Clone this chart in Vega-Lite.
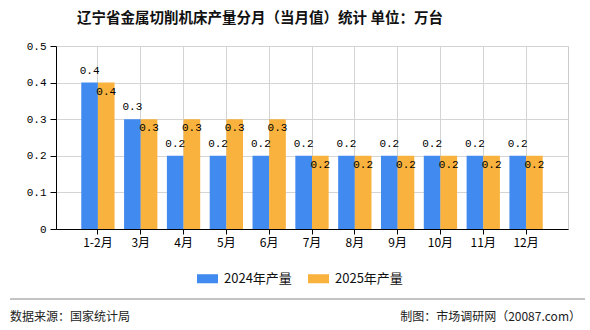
{
  "$schema": "https://vega.github.io/schema/vega-lite/v6.json",
  "width": 512,
  "height": 183,
  "autosize": {"type": "none"},
  "padding": {"left": 56, "top": 46, "right": 22, "bottom": 101},
  "background": "white",
  "config": {
    "view": {"stroke": "#cccccc", "strokeWidth": 1},
    "font": "Noto Sans CJK SC"
  },
  "data": {
    "values": [
      {"month": "1-2月", "year": "2024年产量", "value": 0.4},
      {"month": "3月", "year": "2024年产量", "value": 0.3},
      {"month": "4月", "year": "2024年产量", "value": 0.2},
      {"month": "5月", "year": "2024年产量", "value": 0.2},
      {"month": "6月", "year": "2024年产量", "value": 0.2},
      {"month": "7月", "year": "2024年产量", "value": 0.2},
      {"month": "8月", "year": "2024年产量", "value": 0.2},
      {"month": "9月", "year": "2024年产量", "value": 0.2},
      {"month": "10月", "year": "2024年产量", "value": 0.2},
      {"month": "11月", "year": "2024年产量", "value": 0.2},
      {"month": "12月", "year": "2024年产量", "value": 0.2},
      {"month": "1-2月", "year": "2025年产量", "value": 0.4},
      {"month": "3月", "year": "2025年产量", "value": 0.3},
      {"month": "4月", "year": "2025年产量", "value": 0.3},
      {"month": "5月", "year": "2025年产量", "value": 0.3},
      {"month": "6月", "year": "2025年产量", "value": 0.3},
      {"month": "7月", "year": "2025年产量", "value": 0.2},
      {"month": "8月", "year": "2025年产量", "value": 0.2},
      {"month": "9月", "year": "2025年产量", "value": 0.2},
      {"month": "10月", "year": "2025年产量", "value": 0.2},
      {"month": "11月", "year": "2025年产量", "value": 0.2},
      {"month": "12月", "year": "2025年产量", "value": 0.2}
    ]
  },
  "encoding": {
    "x": {
      "field": "month",
      "type": "nominal",
      "sort": null,
      "scale": {"paddingInner": 0.222, "paddingOuter": 0.59},
      "axis": {
        "title": null,
        "labelAngle": 0,
        "bandPosition": 0.5,
        "grid": true,
        "gridColor": "#d4d4d4",
        "domainColor": "#000000",
        "tickColor": "#000000",
        "tickSize": 5,
        "labelFont": "Noto Sans CJK SC",
        "labelFontSize": 12,
        "labelColor": "#000000",
        "labelPadding": 3
      }
    },
    "y": {
      "field": "value",
      "type": "quantitative",
      "scale": {"domain": [0, 0.5], "nice": false},
      "axis": {
        "title": null,
        "values": [0, 0.1, 0.2, 0.3, 0.4, 0.5],
        "format": "~g",
        "grid": true,
        "gridColor": "#d4d4d4",
        "domainColor": "#000000",
        "tickColor": "#000000",
        "tickSize": 6,
        "labelFont": "Liberation Mono",
        "labelFontSize": 11,
        "labelColor": "#000000",
        "labelPadding": 4
      }
    },
    "xOffset": {
      "field": "year",
      "type": "nominal",
      "scale": {"paddingInner": 0, "paddingOuter": 0}
    }
  },
  "layer": [
    {
      "mark": {"type": "bar"},
      "encoding": {
        "color": {
          "field": "year",
          "type": "nominal",
          "scale": {"range": ["#418af0", "#fab23e"]},
          "legend": {
            "title": null,
            "orient": "none",
            "direction": "horizontal",
            "legendX": 141,
            "legendY": 222,
            "symbolType": "M-1,-0.43L1,-0.43L1,0.43L-1,0.43Z",
            "symbolSize": 441,
            "symbolStrokeWidth": 0,
            "labelFont": "Noto Sans CJK SC",
            "labelFontSize": 13,
            "labelColor": "#111111",
            "labelOffset": 6,
            "columnPadding": 16
          }
        }
      }
    },
    {
      "transform": [{"filter": "datum.year === '2024年产量'"}],
      "mark": {
        "type": "text",
        "baseline": "alphabetic",
        "dy": -9,
        "font": "Liberation Mono",
        "fontSize": 11,
        "color": "#000000"
      },
      "encoding": {"text": {"field": "value", "type": "quantitative", "format": ".1f"}}
    },
    {
      "transform": [{"filter": "datum.year === '2025年产量'"}],
      "mark": {
        "type": "text",
        "baseline": "top",
        "dy": 3,
        "font": "Liberation Mono",
        "fontSize": 11,
        "color": "#000000"
      },
      "encoding": {"text": {"field": "value", "type": "quantitative", "format": ".1f"}}
    },
    {
      "data": {"values": [{}]},
      "mark": {
        "type": "text",
        "text": "辽宁省金属切削机床产量分月（当月值）统计 单位：万台",
        "align": "center",
        "baseline": "alphabetic",
        "font": "Noto Sans CJK SC",
        "fontSize": 14.5,
        "fontWeight": "bold",
        "color": "#111111"
      },
      "encoding": {"x": {"value": 204}, "y": {"value": -23}, "xOffset": null}
    },
    {
      "data": {"values": [{}]},
      "mark": {"type": "rule", "color": "#888888", "strokeWidth": 1},
      "encoding": {
        "x": {"value": -46},
        "x2": {"value": 529},
        "y": {"value": 253},
        "xOffset": null
      }
    },
    {
      "data": {"values": [{}]},
      "mark": {
        "type": "text",
        "text": "数据来源：国家统计局",
        "align": "left",
        "baseline": "alphabetic",
        "font": "Noto Sans CJK SC",
        "fontSize": 12,
        "color": "#222222"
      },
      "encoding": {"x": {"value": -46}, "y": {"value": 275}, "xOffset": null}
    },
    {
      "data": {"values": [{}]},
      "mark": {
        "type": "text",
        "text": "制图：市场调研网（20087.com）",
        "align": "right",
        "baseline": "alphabetic",
        "font": "Noto Sans CJK SC",
        "fontSize": 12,
        "color": "#222222"
      },
      "encoding": {"x": {"value": 525}, "y": {"value": 275}, "xOffset": null}
    }
  ]
}
